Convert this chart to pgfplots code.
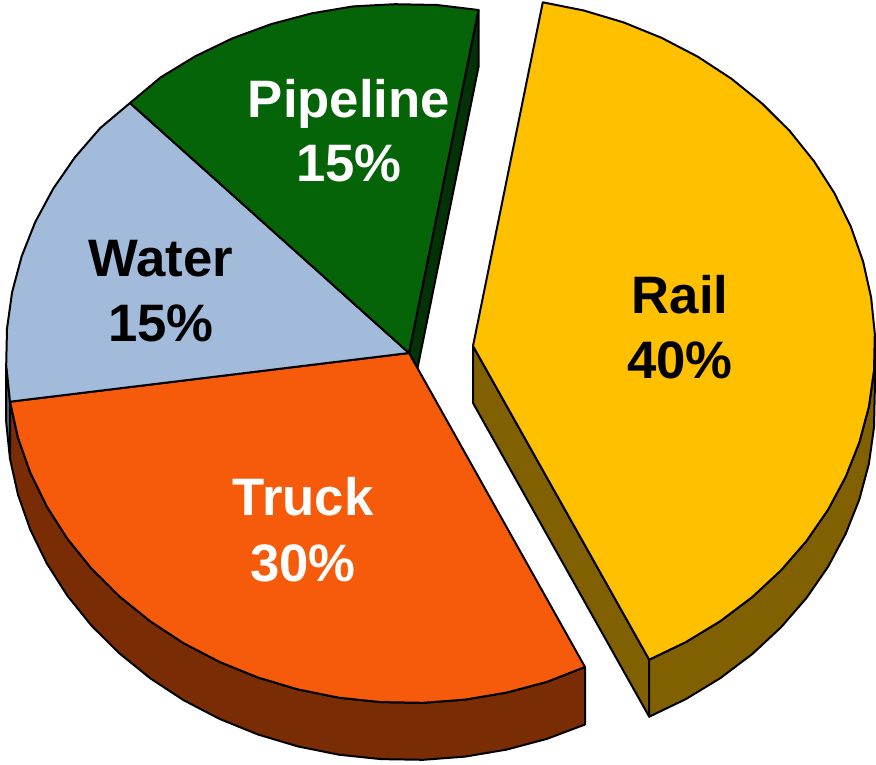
\documentclass[border=0pt]{standalone}
\usepackage{fontspec}
\setmainfont{Liberation Sans}
\usepackage{pgfplots}
\pgfplotsset{compat=1.18}
\definecolor{railtop}{HTML}{FFC000}
\definecolor{railside}{HTML}{806000}
\definecolor{trucktop}{HTML}{F55B0A}
\definecolor{truckside}{HTML}{7A2D05}
\definecolor{watertop}{HTML}{A3BBDB}
\definecolor{waterside}{HTML}{52657F}
\definecolor{pipetop}{HTML}{056308}
\definecolor{pipeside}{HTML}{033206}
\newcommand{\lab}[4]{\node[anchor=base,text=#1,inner sep=0pt] at (axis cs:#2,#3) {\fontsize{52.7}{60}\selectfont\bfseries #4};}
\begin{document}
\begin{tikzpicture}
\begin{axis}[
  width=876pt,height=764pt,scale only axis,
  xmin=0,xmax=876,ymin=0,ymax=764,y dir=reverse,
  hide axis,clip=false,
  every axis plot/.append style={draw=black,line width=2pt,line join=round,mark=none},
]
\path (axis cs:0,0) rectangle (axis cs:876,764);
% water side
\addplot[fill=waterside] coordinates {(10,401.7)(6.2,365.2)(6.2,422.2)(10,458.7)} --cycle;
% pipeline side
\addplot[fill=pipeside] coordinates {(409,353)(478.5,10)(478.5,67)(409,410)} --cycle;
% truck side
\addplot[fill=truckside] coordinates {(585,667)(546.8,681.9)(506.5,692.6)(465.1,699.6)(423.1,702.8)(380.9,702.1)(339.0,697.7)(297.9,689.4)(258.0,677.5)(219.8,662.0)(183.6,643.2)(150.0,621.1)(119.1,596.1)(91.4,568.5)(67.2,538.5)(46.8,506.4)(30.3,472.7)(18.0,437.7)(10.0,401.7)
 (10.0,458.7)(18.0,494.7)(30.3,529.7)(46.8,563.4)(67.2,595.5)(91.4,625.5)(119.1,653.1)(150.0,678.1)(183.6,700.2)(219.8,719.0)(258.0,734.5)(297.9,746.4)(339.0,754.7)(380.9,759.1)(423.1,759.8)(465.1,756.6)(506.5,749.6)(546.8,738.9)(585,724.5)} --cycle;
% rail inner face
\addplot[fill=railside] coordinates {(473,346)(649.2,659.7)(649.2,716.7)(473,403)} --cycle;
% rail outer side
\addplot[fill=railside] coordinates {(649.2,659.7)(686.0,642.0)(720.5,621.0)(752.3,597.0)(781.0,570.3)(806.3,541.2)(828.0,509.8)(845.7,476.7)(859.4,442.2)(868.9,406.6)(874.0,370.3)(874.8,333.8)
 (874.8,390.8)(874.0,427.3)(868.9,463.6)(859.4,499.2)(845.7,533.7)(828.0,566.8)(806.3,598.2)(781.0,627.3)(752.3,654.0)(720.5,678.0)(686.0,699.0)(649.2,716.7)} --cycle;
% truck top
\addplot[fill=trucktop] coordinates {(409,353)(585,667)(546.8,681.9)(506.5,692.6)(465.1,699.6)(423.1,702.8)(380.9,702.1)(339.0,697.7)(297.9,689.4)(258.0,677.5)(219.8,662.0)(183.6,643.2)(150.0,621.1)(119.1,596.1)(91.4,568.5)(67.2,538.5)(46.8,506.4)(30.3,472.7)(18.0,437.7)(10.0,401.7)} --cycle;
% water top
\addplot[fill=watertop] coordinates {(409,353)(10.0,401.7)(6.2,365.2)(7.0,328.6)(12.1,292.2)(21.6,256.5)(35.3,221.9)(53.2,188.7)(74.9,157.3)(100.3,128.0)(130,103)} --cycle;
% pipeline top
\addplot[fill=pipetop] coordinates {(409,353)(130,103)(160.9,77.2)(195.4,56.2)(232.3,38.4)(271.2,24.1)(311.5,13.4)(352.9,6.4)(394.9,4.2)(437.1,5)(478.5,10)} --cycle;
% rail top
\addplot[fill=railtop] coordinates {(473,346)(542.8,2.3)(583.8,10.5)(623.6,22.4)(661.7,37.9)(697.8,56.7)(731.4,78.7)(762.2,103.6)(789.8,131.1)(813.9,161.1)(834.3,193.0)(850.8,226.6)(863.1,261.6)(871.1,297.4)(874.8,333.8)(874.0,370.3)(868.9,406.6)(859.4,442.2)(845.7,476.7)(828.0,509.8)(806.3,541.2)(781.0,570.3)(752.3,597.0)(720.5,621.0)(686.0,642.0)(649.2,659.7)} --cycle;
\lab{white}{349}{117}{Pipeline}
\lab{white}{349}{181}{15\%}
\lab{black}{161}{276}{Water}
\lab{black}{161}{341}{15\%}
\lab{black}{680}{313}{Rail}
\lab{black}{680}{378}{40\%}
\lab{white}{303}{515}{Truck}
\lab{white}{303}{581}{30\%}
\end{axis}
\end{tikzpicture}
\end{document}
